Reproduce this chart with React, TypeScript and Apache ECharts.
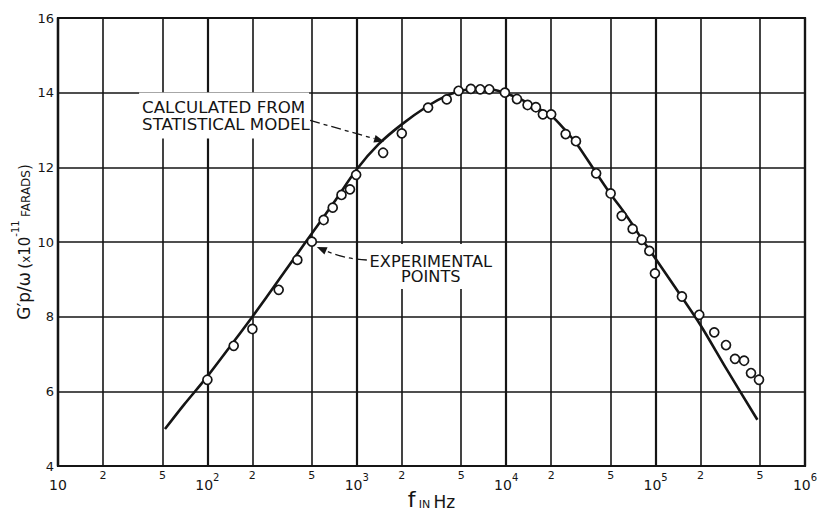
import { useEffect, useRef } from "react";
import * as echarts from "echarts";

// Calculated curve (frequency in Hz, G'p/ω in 1e-11 F)
const modelFreq = [52, 70, 100, 150, 200, 300, 450, 700, 1000, 1400, 2000, 3000, 4000, 5000, 6000, 7000, 8000, 10000, 12000, 15000, 20000, 25000, 30000, 40000, 50000, 60000, 70000, 80000, 100000, 150000, 200000, 300000, 480000];
const modelCap = [4.99, 5.65, 6.4, 7.33, 8.0, 8.98, 9.97, 11.05, 11.95, 12.62, 13.15, 13.65, 13.92, 14.05, 14.1, 14.11, 14.09, 13.98, 13.86, 13.65, 13.38, 12.98, 12.6, 11.85, 11.28, 10.86, 10.47, 10.11, 9.55, 8.52, 7.77, 6.58, 5.24];

// Measured values
const expFreq = [100, 150, 200, 300, 400, 500, 600, 690, 790, 900, 990, 1500, 2000, 3000, 4000, 4800, 5800, 6700, 7700, 9800, 11800, 13900, 15800, 17600, 20000, 25000, 29300, 40000, 50000, 59300, 70200, 80700, 90800, 99000, 150000, 196000, 247000, 296000, 340000, 391000, 435000, 492000];
const expCap = [6.31, 7.22, 7.67, 8.72, 9.52, 10.01, 10.59, 10.92, 11.26, 11.41, 11.8, 12.39, 12.91, 13.6, 13.82, 14.05, 14.1, 14.09, 14.09, 14.0, 13.83, 13.67, 13.61, 13.42, 13.42, 12.89, 12.7, 11.84, 11.3, 10.7, 10.35, 10.06, 9.76, 9.16, 8.54, 8.05, 7.58, 7.24, 6.87, 6.82, 6.49, 6.31];

// Intermediate grid lines inside each decade (2 and 5)
const minorFreq = [20, 50, 200, 500, 2000, 5000, 20000, 50000, 200000, 500000];

const INK = "#151515";
const FONT = "'DejaVu Sans', 'Liberation Sans', sans-serif";

function arrowHead(tip: number[], from: number[], len = 9, half = 3.5) {
  const dx = tip[0] - from[0];
  const dy = tip[1] - from[1];
  const d = Math.hypot(dx, dy) || 1;
  const ux = dx / d, uy = dy / d;
  const bx = tip[0] - ux * len, by = tip[1] - uy * len;
  return [
    [tip[0], tip[1]],
    [bx - uy * half, by + ux * half],
    [bx + uy * half, by - ux * half],
  ];
}

export default function App() {
  const ref = useRef<HTMLDivElement>(null);

  useEffect(() => {
    document.body.style.margin = "0";
    const chart = echarts.init(ref.current!, null, { renderer: "svg" });

    chart.setOption({
      animation: false,
      backgroundColor: "#fff",
      grid: {
        left: 58, right: 14, top: 18, bottom: 48,
        outerBoundsMode: "none",
        show: true, borderColor: INK, borderWidth: 2.2, backgroundColor: "transparent",
      },
      xAxis: {
        type: "log", logBase: 10, min: 10, max: 1000000, splitNumber: 5,
        axisLine: { show: true, lineStyle: { color: INK, width: 2.2 } },
        axisTick: { show: false },
        splitLine: { show: true, lineStyle: { color: INK, width: 2.2 } },
        axisLabel: {
          margin: 6, color: INK,
          formatter: (v: number) => {
            const e = Math.round(Math.log10(v));
            return e === 1 ? "{b|10}" : `{b|10}{s|${e}}`;
          },
          rich: {
            b: { fontSize: 14, fontFamily: FONT, color: INK, lineHeight: 20, verticalAlign: "bottom" },
            s: { fontSize: 10, fontFamily: FONT, color: INK, lineHeight: 10, verticalAlign: "top" },
          },
        },
        name: "{f|f} {s|IN} {h|Hz}",
        nameLocation: "middle",
        nameGap: 24,
        nameMoveOverlap: false,
        nameTextStyle: {
          rich: {
            f: { fontSize: 22, fontFamily: FONT, color: INK, lineHeight: 20, verticalAlign: "bottom" },
            s: { fontSize: 11, fontFamily: FONT, color: INK, lineHeight: 20, verticalAlign: "bottom" },
            h: { fontSize: 17, fontFamily: FONT, color: INK, lineHeight: 20, verticalAlign: "bottom" },
          },
        },
      },
      yAxis: {
        type: "value", min: 4, max: 16, interval: 2,
        axisLine: { show: true, lineStyle: { color: INK, width: 2.2 } },
        axisTick: { show: false },
        splitLine: { show: true, lineStyle: { color: INK, width: 1.6 } },
        axisLabel: { margin: 4, color: INK, fontSize: 13, fontFamily: FONT },
        name: "{g|G′p/ω} {b|(}{x|x}{b|10}{s|-11} {c|FARADS}{b|)}",
        nameLocation: "middle",
        nameGap: 26,
        nameRotate: 90,
        nameMoveOverlap: false,
        nameTextStyle: {
          rich: {
            g: { fontSize: 17, fontFamily: FONT, color: INK, lineHeight: 22, verticalAlign: "bottom" },
            b: { fontSize: 15, fontFamily: FONT, color: INK, lineHeight: 22, verticalAlign: "bottom" },
            x: { fontSize: 12, fontFamily: FONT, color: INK, lineHeight: 22, verticalAlign: "bottom" },
            s: { fontSize: 10, fontFamily: FONT, color: INK, lineHeight: 12, verticalAlign: "top" },
            c: { fontSize: 12, fontFamily: FONT, color: INK, lineHeight: 22, verticalAlign: "bottom" },
          },
        },
      },
      series: [
        {
          // carries the 2 and 5 grid lines of each decade
          type: "line",
          data: [],
          z: 1,
          silent: true,
          markLine: {
            silent: true,
            symbol: ["none", "none"],
            lineStyle: { color: INK, width: 1.6, type: "solid" },
            label: {
              show: true,
              position: "start",
              distance: 4,
              color: INK,
              fontSize: 11,
              fontFamily: FONT,
              formatter: (p: any) => {
                const v = p.value as number;
                return String(Math.round(v / Math.pow(10, Math.floor(Math.log10(v) + 1e-9))));
              },
            },
            data: minorFreq.map((f) => ({ xAxis: f })),
          },
        },
        {
          name: "Calculated from statistical model",
          type: "line",
          data: modelFreq.map((f, i) => [f, modelCap[i]]),
          smooth: 0.3,
          showSymbol: false,
          lineStyle: { color: INK, width: 2.6 },
          z: 4,
        },
        {
          name: "Experimental points",
          type: "scatter",
          data: expFreq.map((f, i) => [f, expCap[i]]),
          symbol: "circle",
          symbolSize: 9,
          itemStyle: { color: "#fff", borderColor: INK, borderWidth: 1.7, opacity: 1 },
          z: 5,
        },
      ],
    });

    // Annotations anchored to data positions
    const tipA = chart.convertToPixel({ gridIndex: 0 }, [1500, 12.72]) as number[];
    const ptB = chart.convertToPixel({ gridIndex: 0 }, [500, 10.0]) as number[];

    const aTip = [tipA[0] + 1, tipA[1] + 1];
    const aStart = [aTip[0] - 74, aTip[1] - 21];
    const aHead = arrowHead(aTip, aStart, 10, 4);
    const aLineEnd = [(aHead[1][0] + aHead[2][0]) / 2, (aHead[1][1] + aHead[2][1]) / 2];

    const bTip = [ptB[0] + 5, ptB[1] + 5];
    const bStart = [bTip[0] + 50, bTip[1] + 13];
    const bHead = arrowHead(bTip, [bTip[0] + 14, bTip[1] + 6], 10, 4);
    const bLineEnd = [(bHead[1][0] + bHead[2][0]) / 2, (bHead[1][1] + bHead[2][1]) / 2];

    chart.setOption({
      graphic: [
        {
          type: "rect", z: 50, silent: true,
          shape: { x: aTip[0] - 245, y: aTip[1] - 49, width: 170, height: 46 },
          style: { fill: "#fff" },
        },
        {
          type: "text", z: 51, silent: true,
          x: aTip[0] - 242, y: aTip[1] - 42, scaleX: 1.11,
          style: {
            text: "CALCULATED FROM\nSTATISTICAL MODEL",
            x: 0, y: 0,
            font: `15px ${FONT}`, fill: INK, lineHeight: 17,
            align: "left", verticalAlign: "top",
          },
        },
        {
          type: "polyline", z: 51, silent: true,
          shape: { points: [aStart, aLineEnd] },
          style: { stroke: INK, lineWidth: 1.3, lineDash: [10, 4, 4, 4], fill: null },
        },
        {
          type: "polygon", z: 51, silent: true,
          shape: { points: aHead },
          style: { fill: INK },
        },
        {
          type: "rect", z: 50, silent: true,
          shape: { x: ptB[0] + 50, y: ptB[1] + 2, width: 138, height: 45 },
          style: { fill: "#fff" },
        },
        {
          type: "text", z: 51, silent: true,
          x: ptB[0] + 119, y: ptB[1] + 13, scaleX: 1.08,
          style: {
            text: "EXPERIMENTAL\nPOINTS",
            x: 0, y: 0,
            font: `15px ${FONT}`, fill: INK, lineHeight: 15,
            align: "center", verticalAlign: "top",
          },
        },
        {
          type: "bezierCurve", z: 51, silent: true,
          shape: {
            x1: bStart[0], y1: bStart[1],
            x2: bLineEnd[0], y2: bLineEnd[1],
            cpx1: bStart[0] - 22, cpy1: bStart[1] - 1,
          },
          style: { stroke: INK, lineWidth: 1.3, lineDash: [10, 4, 4, 4], fill: null },
        },
        {
          type: "polygon", z: 51, silent: true,
          shape: { points: bHead },
          style: { fill: INK },
        },
      ],
    });

    return () => chart.dispose();
  }, []);

  return <div ref={ref} style={{ width: 819, height: 514 }} />;
}
